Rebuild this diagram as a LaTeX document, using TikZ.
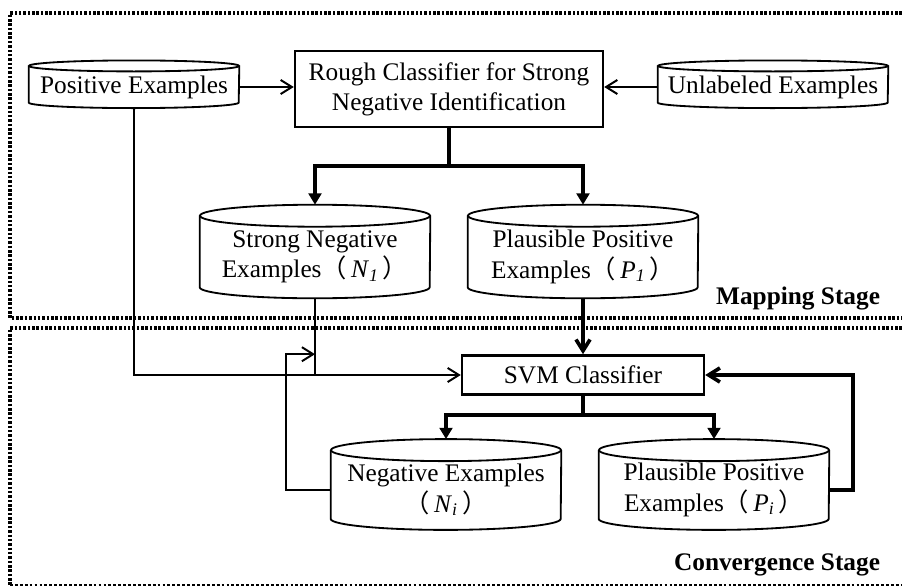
\documentclass[tikz,border=0pt]{standalone}
\usepackage{fontspec}
\setmainfont{Liberation Serif}
\newfontfamily\cjk{Noto Sans CJK SC}
\usetikzlibrary{positioning, arrows.meta, calc}

\newcommand{\lpar}{{\cjk （}\,}
\newcommand{\rpar}{\,{\cjk ）}}

\begin{document}
\begin{tikzpicture}[x=0.025cm, y=0.025cm,
    font=\fontsize{18}{21.5}\selectfont,
    box/.style={draw, line width=1.7pt, align=center, inner sep=0pt},
    db/.style={align=center, inner sep=0pt, minimum width=5.75cm, minimum height=2.05cm},
    dbline/.style={line width=1.3pt},
    stage/.style={line width=2.4pt, dash pattern=on 1.8pt off 1.3pt},
    thinarr/.style={line width=1.4pt, -{Straight Barb[length=8pt, width=10pt]}},
    fatarr/.style={line width=2.6pt, -{Straight Barb[length=8pt, width=10pt]}},
    splitarr/.style={line width=2.6pt, -{Triangle[length=8pt, width=9pt]}}]

        \useasboundingbox (0,0) rectangle (902,-586);

        % STAGES
        \draw[stage] (902,-13) -- (10,-13) -- (10,-318) -- (902,-318);
        \draw[stage] (902,-328) -- (10,-328) -- (10,-585);
        \draw[line width=1pt, dash pattern=on 2pt off 1.5pt] (10,-585) -- (902,-585);
        \node[anchor=base east] (maplbl) at (885,-304) {\textbf{Mapping Stage}};
        \node[anchor=base east] (convlbl) at (885,-570) {\textbf{Convergence Stage}};

        % DATA SETS
        \node[db, minimum width=5.25cm, minimum height=1.04cm] (pos) at (134,-87) {Positive Examples};
        \node[db, minimum height=1.04cm] (unl) at (773,-87) {Unlabeled Examples};
        \node[db] (sn) at (315,-257) {Strong Negative\\Examples\lpar\textit{N}\textsubscript{\textit{1}}\rpar};
        \node[db] (pp) at (583,-257) {Plausible Positive\\Examples\lpar\textit{P}\textsubscript{\textit{1}}\rpar};
        \node[db, minimum height=1.98cm] (ni) at (446,-490) {Negative Examples\\\lpar\textit{N}\textsubscript{\textit{i}}\rpar};
        \node[db, minimum height=1.98cm] (pi) at (714,-490) {Plausible Positive\\Examples\lpar\textit{P}\textsubscript{\textit{i}}\rpar};

        \foreach \n/\w/\r in {pos/105/5.5, unl/115/5.5, sn/115/11, pp/115/11, ni/115/11, pi/115/11} {
            \draw[dbline] (\n.north west) -- ($(\n.south west)+(0,\r)$)
                arc[start angle=180, end angle=360, x radius=\w, y radius=\r] -- (\n.north east);
            \draw[dbline] (\n.north) ellipse[x radius=\w, y radius=\r];
            \coordinate (\n-top) at ($(\n.north)+(0,\r)$);
        }

        % CLASSIFIERS
        \node[box, minimum width=7.7cm, minimum height=1.9cm] (rough) at (449,-89) {Rough Classifier for Strong\\Negative Identification};
        \node[box, minimum width=6.05cm, minimum height=0.98cm] (svm) at (583,-375) {SVM Classifier};

        % MAPPING
        \draw[thinarr] (pos.east) -- (pos.east -| rough.west);
        \draw[thinarr] (unl.west) -- (unl.west -| rough.east);
        \coordinate (split1) at ($(rough.south)+(0,-38)$);
        \draw[line width=2.6pt] (rough.south) -- (split1);
        \draw[splitarr] (split1) -| (sn-top);
        \draw[splitarr] (split1) -| (pp-top);

        % CONVERGENCE
        \draw[thinarr] (pos.south) |- (svm.west);
        \draw[line width=1.4pt] (sn.south) -- (sn.south |- svm.west);
        \draw[thinarr] (ni.west) -- ++(-45,0) |- (sn.south |- svm.north);
        \draw[fatarr] (pp.south) -- (svm.north);
        \coordinate (split2) at ($(svm.south)+(0,-19)$);
        \draw[line width=2.6pt] (svm.south) -- (split2);
        \draw[splitarr] (split2) -| (ni-top);
        \draw[splitarr] (split2) -| (pi-top);
        \draw[fatarr] (pi.east) -- ++(24,0) |- (svm.east);

    \end{tikzpicture}
\end{document}
